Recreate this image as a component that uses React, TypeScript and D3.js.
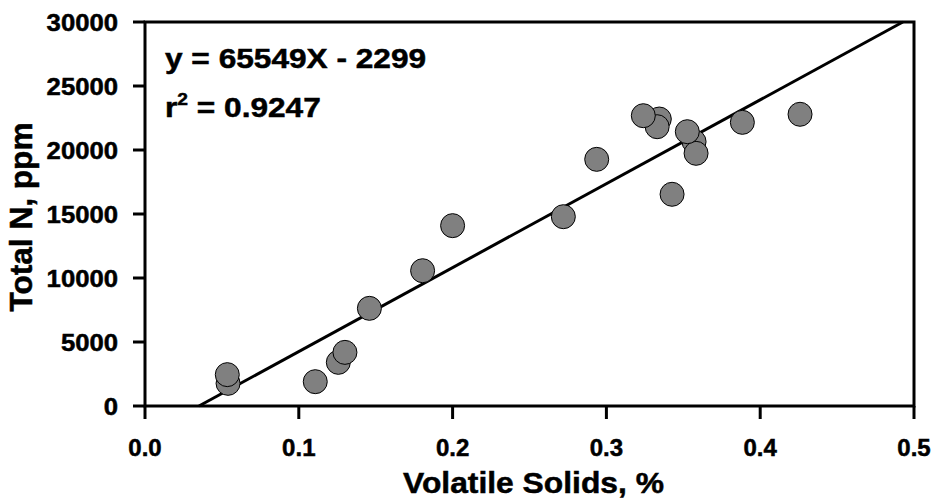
import React from "react";
import * as d3 from "d3";

// Volatile solids (%) vs total N (ppm)
const volatileSolids = [
  0.054, 0.0535, 0.1107, 0.1257, 0.13, 0.1459, 0.1805, 0.2, 0.272, 0.2937,
  0.3344, 0.333, 0.324, 0.3427, 0.357, 0.3583, 0.3526, 0.3884, 0.4259,
];
const totalN = [
  1770, 2450, 1900, 3410, 4190, 7630, 10570, 14090, 14790, 19270, 22420, 21820,
  22680, 16540, 20650, 19740, 21430, 22160, 22790,
];
const xTicks = [0, 0.1, 0.2, 0.3, 0.4, 0.5];
const yTicks = [0, 5000, 10000, 15000, 20000, 25000, 30000];
const slope = 65549;
const intercept = -2299;

const W = 935;
const H = 500;
const margin = { top: 22, right: 21, bottom: 94, left: 145 };
const FONT = "'Liberation Sans', Arial, sans-serif";

const x = d3
  .scaleLinear()
  .domain([0, 0.5])
  .range([margin.left, W - margin.right]);
const y = d3
  .scaleLinear()
  .domain([0, 30000])
  .range([H - margin.bottom, margin.top]);

const Stretch = ({ x0, y0, sx = 1.16, anchor = "start", size, children }: any) => (
  <text
    transform={`translate(${x0},${y0}) scale(${sx},1)`}
    textAnchor={anchor}
    fontSize={size}
    fontWeight="bold"
    fontFamily={FONT}
    stroke="#000"
    strokeWidth={0.5}
  >
    {children}
  </text>
);

export default function App() {
  // fit line from y=0 up to the top of the plot
  const xStart = -intercept / slope;
  const xEnd = (30000 - intercept) / slope;
  const fit = d3
    .line<number>()
    .x((d) => x(d))
    .y((d) => y(slope * d + intercept));

  const x0 = x(0);
  const x1 = x(0.5);
  const y0 = y(0);
  const y1 = y(30000);

  return (
    <svg width={W} height={H} style={{ position: "absolute", left: 0, top: 0 }}>
      <rect width={W} height={H} fill="#fff" />
      {/* frame */}
      <rect
        x={x0}
        y={y1}
        width={x1 - x0}
        height={y0 - y1}
        fill="none"
        stroke="#000"
        strokeWidth={3}
      />
      {/* fit line */}
      <path d={fit([xStart, xEnd]) || ""} stroke="#000" strokeWidth={3} fill="none" />
      {/* points */}
      {volatileSolids.map((v, i) => (
        <circle
          key={i}
          cx={x(v)}
          cy={y(totalN[i])}
          r={12}
          fill="#808080"
          stroke="#000"
          strokeWidth={1}
        />
      ))}
      {/* x ticks */}
      {xTicks.map((t) => (
        <g key={t}>
          <line x1={x(t)} x2={x(t)} y1={y0} y2={y0 + 13} stroke="#000" strokeWidth={3} />
          <Stretch x0={x(t)} y0={y0 + 50} anchor="middle" size={24} sx={1.0}>
            {t.toFixed(1)}
          </Stretch>
        </g>
      ))}
      {/* y ticks */}
      {yTicks.map((t) => (
        <g key={t}>
          <line x1={x0 - 12} x2={x0} y1={y(t)} y2={y(t)} stroke="#000" strokeWidth={3} />
          <Stretch x0={x0 - 27} y0={y(t) + 8.5} anchor="end" size={24} sx={1.07}>
            {t}
          </Stretch>
        </g>
      ))}
      {/* axis titles */}
      <Stretch x0={(x0 + x1) / 2 + 4} y0={493} anchor="middle" size={30} sx={1.06}>
        Volatile Solids, %
      </Stretch>
      <text
        transform={`translate(32,${(y0 + y1) / 2 + 3}) rotate(-90) scale(1.02,1)`}
        textAnchor="middle"
        fontSize={31}
        fontWeight="bold"
        fontFamily={FONT}
        stroke="#000"
        strokeWidth={0.5}
      >
        Total N, ppm
      </text>
      {/* equation */}
      <Stretch x0={165} y0={68} size={28} sx={1.13}>
        y = 65549X - 2299
      </Stretch>
      <Stretch x0={165} y0={117} size={28} sx={1.13}>
        r<tspan fontSize={17} dy={-12}>2</tspan>
        <tspan dy={12}> = 0.9247</tspan>
      </Stretch>
    </svg>
  );
}
